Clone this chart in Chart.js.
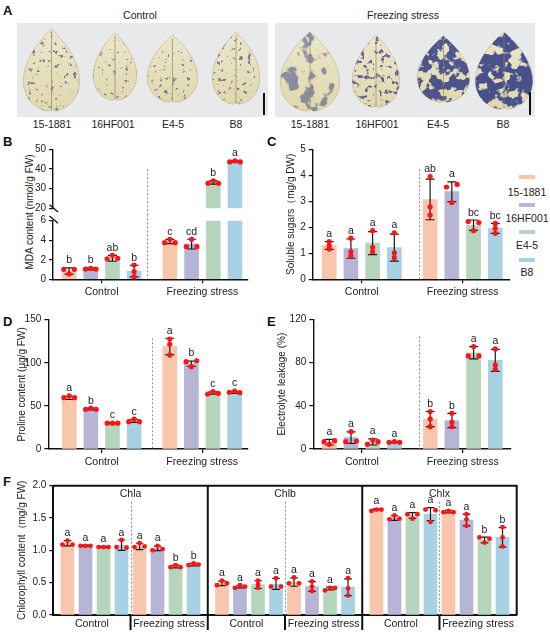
<!DOCTYPE html>
<html>
<head>
<meta charset="utf-8">
<title>Freezing stress physiology</title>
<script src="https://cdn.jsdelivr.net/npm/chart.js@4.4.0/dist/chart.umd.min.js"></script>
<style>
  body { margin: 0; width: 550px; height: 635px; position: relative; overflow: hidden; background: #fff;
         font-family: "Liberation Sans", Arial, sans-serif; color: #222; }
  canvas, svg { position: absolute; }
  .tag { position: absolute; font-weight: bold; font-size: 13px; color: #111; line-height: 1; }
  .txt { position: absolute; font-size: 10.5px; white-space: nowrap; transform: translate(-50%, -50%); line-height: 1; }
  .vtxt { position: absolute; font-size: 10px; white-space: nowrap; transform: translate(-50%, -50%) rotate(-90deg); line-height: 1; }
  .swatch { position: absolute; width: 16px; height: 4px; transform: translate(-50%, -50%); }
</style>
</head>
<body>
<svg id="photos" width="550" height="135" style="left:0;top:0"></svg>
<script>
const genotypes = ['15-1881', '16HF001', 'E4-5', 'B8'];
const treatments = ['Control', 'Freezing stress'];
const genoColors = ['#f7c6ad', '#b6b5d6', '#b5d5bd', '#a9d1e4'];

// B  MDA content (nmol/g FW) - 4 control bars, then 4 freezing stress bars
const mdaMean = [0.86, 1.07, 2.15, 0.84, 3.87, 3.6, 33.1, 43.8];
const mdaSD = [0.32, 0.1, 0.3, 0.6, 0.22, 0.5, 0.85, 0.3];
const mdaDots = [[1.02, 1.02, 0.55], [1.05, 1.12, 1.05], [2.1, 2.45, 2.15], [1.46, 0.8, 0.27],
                 [3.75, 4.1, 3.75], [3.34, 4.1, 3.34], [32.7, 34.0, 32.7], [43.6, 44.1, 43.6]];
const mdaLetters = ['b', 'b', 'ab', 'b', 'c', 'cd', 'b', 'a'];
const mdaTicksHigh = [20, 30, 40, 50];
const mdaTicksLow = [0, 2, 4, 6];

// C  soluble sugars (mg/g DW)
const sugarMean = [1.3, 1.18, 1.39, 1.22, 3.07, 3.37, 2.08, 1.96];
const sugarSD = [0.15, 0.37, 0.44, 0.52, 0.78, 0.38, 0.2, 0.19];
const sugarDots = [[1.45, 1.3, 1.17], [1.58, 1.06, 0.9], [1.87, 1.23, 1.06], [1.79, 1.02, 0.83],
                   [3.95, 2.79, 2.47], [3.55, 3.65, 2.95], [2.22, 2.18, 1.87], [2.15, 1.96, 1.77]];
const sugarLetters = ['a', 'a', 'a', 'a', 'ab', 'a', 'bc', 'bc'];
const sugarTicks = [0, 1, 2, 3, 4, 5];

// D  proline content (µg/g FW)
const prolineMean = [59, 46.5, 30, 32.7, 119, 99, 65, 65.5];
const prolineSD = [1.6, 1, 0.5, 1.8, 9.5, 3, 1.3, 1];
const prolineDots = [[59.5, 61.8, 59.5], [46, 47.5, 46], [30, 30, 30], [31.7, 34.8, 31.7],
                     [127.6, 121.4, 109], [101.3, 102.4, 95.5], [63.8, 66.5, 64.6], [65.7, 67.3, 65.3]];
const prolineLetters = ['a', 'b', 'c', 'c', 'a', 'b', 'c', 'c'];
const prolineTicks = [0, 50, 100, 150];

// E  electrolyte leakage (%)
const leakMean = [6.3, 10.5, 6.5, 6.3, 27.7, 26.3, 89, 82];
const leakSD = [2.6, 5.4, 2.8, 0.4, 7, 6.6, 5.7, 10.2];
const leakDots = [[6.8, 4.3, 7.7], [6.8, 16, 7.4], [4.3, 8.3, 6.8], [6.2, 6.8, 6.2],
                  [34.6, 27.8, 20.7], [33, 24.7, 20.7], [86.1, 94.8, 86.1], [92.6, 77.8, 73.8]];
const leakLetters = ['a', 'a', 'a', 'a', 'b', 'b', 'a', 'a'];
const leakTicks = [0, 40, 80, 120];

// F  chlorophyll content (mg/g FW)
const chlNames = ['Chla', 'Chlb', 'Chlx'];
const chlaMean = [1.11, 1.07, 1.05, 1.08, 1.06, 1.03, 0.75, 0.78];
const chlaSD = [0.04, 0.01, 0.01, 0.08, 0.05, 0.035, 0.02, 0.02];
const chlaDots = [[1.09, 1.15, 1.09], [1.07, 1.07, 1.07], [1.05, 1.05, 1.05], [1.05, 1.16, 1.04],
                  [1.05, 1.11, 1.06], [1.0, 1.07, 1.02], [0.74, 0.77, 0.74], [0.77, 0.8, 0.78]];
const chlaLetters = ['a', 'a', 'a', 'a', 'a', 'a', 'b', 'b'];
const chlbMean = [0.49, 0.44, 0.47, 0.48, 0.51, 0.44, 0.41, 0.43];
const chlbSD = [0.035, 0.02, 0.06, 0.085, 0.065, 0.075, 0.02, 0.13];
const chlbDots = [[0.46, 0.53, 0.49], [0.42, 0.46, 0.44], [0.53, 0.47, 0.42], [0.44, 0.57, 0.44],
                  [0.49, 0.58, 0.49], [0.37, 0.52, 0.44], [0.38, 0.42, 0.42], [0.57, 0.41, 0.3]];
const chlbLetters = ['a', 'a', 'a', 'a', 'a', 'a', 'a', 'a'];
const chlxMean = [1.63, 1.5, 1.54, 1.56, 1.6, 1.47, 1.16, 1.2];
const chlxSD = [0.01, 0.035, 0.045, 0.1, 0.02, 0.09, 0.045, 0.15];
const chlxDots = [[1.61, 1.63, 1.63], [1.48, 1.54, 1.49], [1.56, 1.49, 1.56], [1.63, 1.44, 1.62],
                  [1.59, 1.61, 1.59], [1.56, 1.48, 1.38], [1.12, 1.2, 1.18], [1.36, 1.2, 1.06]];
const chlxLetters = ['a', 'a', 'a', 'a', 'a', 'a', 'b', 'b'];
const chlTicks = [0, 0.5, 1, 1.5, 2];

// bar slots: control bars 0..3, freezing bars shifted by 4.65 slots
const barPos = [0, 1, 2, 3].concat([0, 1, 2, 3].map(i => i + 4.65));
const groupPos = [1.5, 6.15];
// F: one x unit per sub-panel, 8 bars in each
const chlPos = [];
for (let k = 0; k < 3; k++) for (let j = 0; j < 8; j++) chlPos.push(k + 0.092 + j * 0.1166);
const chlGroupPos = [0.25, 0.75, 1.25, 1.75, 2.25, 2.75];

Chart.defaults.font.family = '"Liberation Sans", Arial, sans-serif';
Chart.defaults.color = '#222';

// ---------- panel A: stained leaf photos (imitation) ----------
(function drawPhotos() {
  const leafBoxes = [[23, 29, 57, 83], [93, 33, 44, 68], [147, 35, 51, 68], [212, 32, 48, 73],
                     [280, 32, 60, 80], [352, 35, 48, 73], [417, 36, 53, 67], [475, 32, 58, 78]];
  const stainFreq = [0.22, 0.24, 0.22, 0.23, 0.07, 0.2, 0.1, 0.09];
  const stainThr = [0.35, 0.33, 0.34, 0.35, 0.47, 0.4, 0.57, 0.59];
  const stainAlpha = [0.6, 0.55, 0.6, 0.6, 0.5, 0.75, 0.85, 0.88];
  const shape = [['M', 0.5, 0], ['C', 0.62, 0.08, 0.95, 0.3, 0.99, 0.58], ['C', 1.02, 0.82, 0.8, 0.97, 0.55, 0.99],
                 ['L', 0.5, 0.95], ['L', 0.45, 0.99], ['C', 0.2, 0.97, -0.02, 0.82, 0.01, 0.58], ['C', 0.05, 0.3, 0.38, 0.08, 0.5, 0]];
  const leafPath = b => shape.map(s => s[0] + s.slice(1).map((v, i) =>
    (i % 2 === 0 ? b[0] + v * b[2] : b[1] + v * b[3]).toFixed(1)).join(',')).join(' ') + ' Z';
  let defs = '<linearGradient id="leafFill" x1="0" y1="0" x2="0" y2="1"><stop offset="0" stop-color="#ece7cb"/><stop offset="1" stop-color="#e0d8ad"/></linearGradient>';
  let body = '<rect x="17" y="23" width="251" height="94" fill="#e8e9eb"/><rect x="275" y="23" width="260" height="94" fill="#e8e9eb"/>';
  leafBoxes.forEach((b, i) => {
    const d = leafPath(b);
    defs += `<clipPath id="lc${i}"><path d="${d}"/></clipPath>` +
      `<filter id="st${i}" x="0" y="0" width="1" height="1" color-interpolation-filters="sRGB">` +
      `<feTurbulence type="fractalNoise" baseFrequency="${stainFreq[i]}" numOctaves="3" seed="${i * 7 + 3}"/>` +
      `<feColorMatrix type="matrix" values="0 0 0 0 0.2  0 0 0 0 0.24  0 0 0 0 0.52  -12 0 0 0 ${(12 * stainThr[i]).toFixed(2)}"/></filter>`;
    body += `<path d="${d}" fill="url(#leafFill)" stroke="#c2b78c" stroke-width="0.7"/>` +
      `<g clip-path="url(#lc${i})" opacity="${stainAlpha[i]}"><rect x="${b[0]}" y="${b[1]}" width="${b[2]}" height="${b[3]}" filter="url(#st${i})"/></g>` +
      `<line x1="${b[0] + b[2] / 2}" y1="${b[1] + 3}" x2="${b[0] + b[2] / 2}" y2="${b[1] + b[3] - 1}" stroke="#8f8256" stroke-width="0.8" opacity="0.8"/>`;
  });
  body += '<line x1="264" y1="93" x2="264" y2="115" stroke="#111" stroke-width="2"/>' +
          '<line x1="530" y1="92" x2="530" y2="115" stroke="#111" stroke-width="2"/>';
  document.getElementById('photos').innerHTML = '<defs>' + defs + '</defs>' + body;
})();

function addText(cls, text, x, y) {
  const d = document.createElement('div');
  d.className = cls; d.textContent = text;
  d.style.left = x + 'px'; d.style.top = y + 'px';
  document.body.appendChild(d);
  return d;
}

['A', 'B', 'C', 'D', 'E', 'F'].forEach((t, i) => {
  const xy = [[3, 4], [3, 135], [267, 135], [3, 315], [267, 315], [3, 475]][i];
  addText('tag', t, xy[0], xy[1]);
});
addText('txt', 'Control', 140, 15);
addText('txt', 'Freezing stress', 403, 15);
[52, 113, 173, 236].forEach((x, i) => addText('txt', genotypes[i], x, 124));
[310, 377, 438, 503].forEach((x, i) => addText('txt', genotypes[i], x, 124));
addText('vtxt', 'MDA content (nmol/g FW)', 29.5, 212);
// legend of panel C
genotypes.forEach((g, i) => {
  const sw = addText('swatch', '', 527, 177 + i * 27.7);
  sw.style.background = genoColors[i];
  addText('txt', g, 527, 191.5 + i * 26.8);
});

// spread overlapping dots sideways (swarm-like)
function dotOffsets(vals, thr) {
  const idx = vals.map((v, i) => i).sort((a, b) => vals[a] - vals[b]);
  const clusters = [];
  idx.forEach(i => {
    const last = clusters[clusters.length - 1];
    if (last && vals[i] - vals[last[last.length - 1]] < thr) last.push(i);
    else clusters.push([i]);
  });
  const off = vals.map(() => 0);
  clusters.forEach(c => {
    c.sort((a, b) => a - b);
    const step = c.length === 2 ? 2 : 1;
    c.forEach((i, k) => { off[i] = (k - (c.length - 1) / 2) * step; });
  });
  return off;
}

function panel(p) {
  const cv = document.createElement('canvas');
  cv.width = p.w; cv.height = p.h;
  cv.style.left = p.left + 'px'; cv.style.top = p.top + 'px';
  document.body.appendChild(cv);

  const xH = p.showX === false ? 0 : p.xHeight;
  const plotW = p.w - p.yWidth - p.padRight;
  const plotH = p.h - p.padTop - xH - (p.padBottom || 0);
  const pxPerX = plotW / (p.xMax - p.xMin);
  const thr = 2.8 * (p.yMax - p.yMin) / plotH;

  const errs = [], dots = [];
  p.mean.forEach((m, i) => {
    errs.push({x: p.pos[i], y: m - p.sd[i]}, {x: p.pos[i], y: m + p.sd[i]}, {x: p.pos[i], y: null});
    const off = dotOffsets(p.dots[i], thr);
    p.dots[i].forEach((v, k) => dots.push({x: p.pos[i] + off[k] * p.dotGap / pxPerX, y: v}));
  });

  const axisColor = '#111';
  const decor = {
    id: 'decor',
    beforeDatasetsDraw(chart) {
      const {ctx, chartArea: a, scales: {x}} = chart;
      ctx.save();
      ctx.strokeStyle = '#8c8c8c'; ctx.lineWidth = 1; ctx.setLineDash([2, 2]);
      p.dashX.forEach(v => {
        const px = Math.round(x.getPixelForValue(v)) + 0.5;
        ctx.beginPath(); ctx.moveTo(px, a.top + p.dashFrom); ctx.lineTo(px, a.bottom + (p.dashTo || 0)); ctx.stroke();
      });
      ctx.restore();
    },
    afterDatasetsDraw(chart) {
      const {ctx, chartArea: a, scales: {x, y}} = chart;
      ctx.save();
      ctx.font = '10.5px "Liberation Sans", Arial, sans-serif';
      ctx.fillStyle = '#222'; ctx.textAlign = 'center'; ctx.textBaseline = 'alphabetic';
      p.mean.forEach((m, i) => {
        const py = y.getPixelForValue(Math.max(m + p.sd[i], ...p.dots[i]));
        if (py < a.top - 6 || py > a.bottom) return;
        ctx.fillText(p.letters[i], x.getPixelForValue(p.pos[i]), py - 4.5);
      });
      ctx.strokeStyle = axisColor; ctx.lineWidth = 1.3;
      const slash = cy => { ctx.beginPath(); ctx.moveTo(a.left - 3.5, cy - 3.6); ctx.lineTo(a.left + 5, cy + 3.6); ctx.stroke(); };
      if (p.breakBottom) slash(a.bottom);
      if (p.breakTop) slash(a.top - 1);
      if (p.splits) {
        ctx.lineWidth = 2;
        ctx.beginPath();
        ctx.moveTo(a.left, a.top); ctx.lineTo(a.right, a.top); ctx.lineTo(a.right, a.bottom);
        p.splits.forEach(v => { const px = x.getPixelForValue(v); ctx.moveTo(px, a.top); ctx.lineTo(px, a.bottom + 15); });
        p.subSplits.forEach(v => { const px = x.getPixelForValue(v); ctx.moveTo(px, a.bottom); ctx.lineTo(px, a.bottom + 15); });
        ctx.stroke();
        p.subTitles.forEach((n, k) => ctx.fillText(n, x.getPixelForValue(k + 0.5), a.top + 11.5));
      }
      ctx.restore();
    }
  };

  new Chart(cv, {
    type: 'bar',
    data: {
      datasets: [
        { type: 'bar', data: p.mean.map((m, i) => ({x: p.pos[i], y: m})),
          backgroundColor: p.pos.map((_, i) => genoColors[i % 4]), barThickness: p.barWidth, clip: 0, order: 3 },
        { type: 'line', data: errs, borderColor: '#1a1a1a', borderWidth: 1.2, pointStyle: 'line', pointRadius: p.capR,
          pointBorderColor: '#1a1a1a', pointBorderWidth: 1.2, spanGaps: false, fill: false, clip: 5, order: 2 },
        { type: 'scatter', data: dots, pointRadius: p.dotR, pointBackgroundColor: '#ff1414', pointBorderWidth: 0, clip: 3, order: 1 }
      ]
    },
    options: {
      responsive: false, animation: false, events: [],
      layout: { padding: { top: p.padTop, right: p.padRight, bottom: p.padBottom || 0, left: 0 } },
      plugins: { legend: { display: false }, tooltip: { enabled: false } },
      scales: {
        x: {
          type: 'linear', min: p.xMin, max: p.xMax, offset: false, display: p.showX !== false,
          afterBuildTicks: ax => { ax.ticks = p.groupPos.map(v => ({value: v})); },
          afterFit: ax => { ax.height = xH; },
          border: { color: axisColor, width: p.axisW },
          grid: { offset: false, drawOnChartArea: false, drawTicks: p.xTicks !== false, tickLength: 4, color: axisColor, lineWidth: 1.2 },
          ticks: { autoSkip: false, maxRotation: 0, padding: 3, font: { size: 10.5 }, color: '#222',
                   callback: (v, i) => p.groupLabels[i] }
        },
        y: {
          type: 'linear', min: p.yMin, max: p.yMax,
          afterBuildTicks: ax => { ax.ticks = p.yTicks.map(v => ({value: v})); },
          afterFit: ax => { ax.width = p.yWidth; },
          border: { color: axisColor, width: p.axisW },
          grid: { drawOnChartArea: false, tickLength: 4, color: axisColor, lineWidth: 1.2 },
          ticks: { padding: 3, font: { size: 10 }, color: '#222', callback: p.yFmt || (v => String(v)) },
          title: { display: !!p.title, text: p.title, font: { size: 10 }, color: '#222', padding: { top: p.titlePad || 0, bottom: 0 } }
        }
      }
    },
    plugins: [decor]
  });
}

const common = { barWidth: 14, capR: 4.5, dotR: 2.6, dotGap: 5.3, axisW: 1.4, pos: barPos,
                 groupPos: groupPos, groupLabels: treatments, yMin: 0 };

// B upper segment (20-50) and lower segment (0-6)
panel(Object.assign({}, common, { left: 0, top: 130, w: 270, h: 90, padTop: 19.3, padRight: 22, padBottom: 11.7,
  yWidth: 53, showX: false, xHeight: 0, xMin: -0.74, xMax: 8.25, yMin: 20, yMax: 50, yTicks: mdaTicksHigh,
  mean: mdaMean, sd: mdaSD, dots: mdaDots, letters: mdaLetters,
  dashX: [3.58], dashFrom: 20, dashTo: 6, breakBottom: true }));
panel(Object.assign({}, common, { left: 0, top: 205, w: 270, h: 95, padTop: 15.7, padRight: 22, xHeight: 20.7,
  yWidth: 53, xMin: -0.74, xMax: 8.25, yMax: 6, yTicks: mdaTicksLow,
  mean: mdaMean, sd: mdaSD, dots: mdaDots, letters: mdaLetters,
  dashX: [3.58], dashFrom: -6.4, breakTop: true }));
// C
panel(Object.assign({}, common, { left: 270, top: 130, w: 280, h: 170, padTop: 19.3, padRight: 40, xHeight: 20.7,
  yWidth: 42.7, xMin: -0.76, xMax: 8.33, yMax: 5, yTicks: sugarTicks,
  title: 'Soluble sugars（mg/g DW)', titlePad: 15.7,
  mean: sugarMean, sd: sugarSD, dots: sugarDots, letters: sugarLetters, dashX: [4.13], dashFrom: 20 }));
// D
panel(Object.assign({}, common, { left: 0, top: 305, w: 270, h: 165, padTop: 14.7, padRight: 22, xHeight: 21,
  yWidth: 48.3, xMin: -0.97, xMax: 8.27, yMax: 150, yTicks: prolineTicks,
  title: 'Proline content (µg/g FW)', titlePad: 16.5,
  mean: prolineMean, sd: prolineSD, dots: prolineDots, letters: prolineLetters, dashX: [3.84], dashFrom: 18.6 }));
// E
panel(Object.assign({}, common, { left: 270, top: 305, w: 280, h: 165, padTop: 14.3, padRight: 39.3, xHeight: 21,
  yWidth: 43.3, xMin: -0.74, xMax: 8.36, yMax: 120, yTicks: leakTicks,
  title: 'Electrolyte leakage (%)', titlePad: 6.7,
  mean: leakMean, sd: leakSD, dots: leakDots, letters: leakLetters, dashX: [4.13], dashFrom: 17 }));
// F
panel({ left: 0, top: 475, w: 550, h: 160, padTop: 10.7, padRight: 33.3, xHeight: 20, yWidth: 53.3,
  barWidth: 13, capR: 3.8, dotR: 2.4, dotGap: 5, axisW: 2, xTicks: false,
  pos: chlPos, groupPos: chlGroupPos, groupLabels: treatments.concat(treatments, treatments),
  xMin: 0, xMax: 3, yMin: 0, yMax: 2, yTicks: chlTicks, yFmt: v => v.toFixed(1),
  title: 'Chlorophyll content（mg/g FW)', titlePad: 16.5,
  mean: chlaMean.concat(chlbMean, chlxMean), sd: chlaSD.concat(chlbSD, chlxSD),
  dots: chlaDots.concat(chlbDots, chlxDots), letters: chlaLetters.concat(chlbLetters, chlxLetters),
  dashX: [0.5, 1.5, 2.5], dashFrom: 16, splits: [1, 2], subSplits: [0.5, 1.5, 2.5], subTitles: chlNames });
</script>
</body>
</html>
